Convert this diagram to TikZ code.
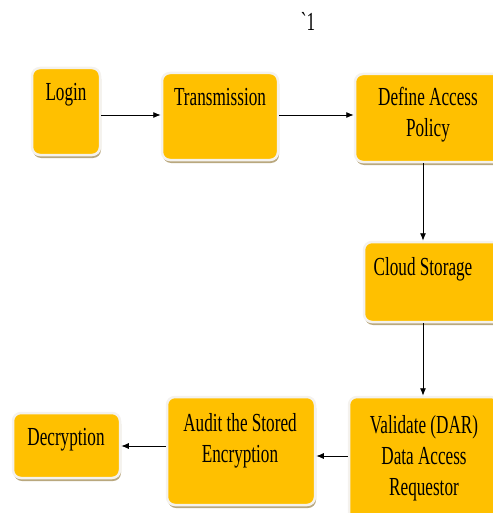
\documentclass[tikz,border=0pt]{standalone}
\usepackage{fontspec}
\setmainfont{Liberation Serif}[FakeStretch=0.66]
\newfontfamily\gravefont{Liberation Serif}[FakeStretch=0.66, Ligatures=TeXOff]
\usetikzlibrary{arrows.meta}
\usetikzlibrary{shadows}
\definecolor{boxgold}{HTML}{FFC000}
\definecolor{boxrim}{HTML}{F4F2EE}
\definecolor{boxshade}{HTML}{A8925E}
\tikzset{stepbox/.style = {rectangle, rounded corners=8pt, fill=boxgold, draw=boxrim,
                           line width=2.5pt, inner sep=0pt,
                           drop shadow={shadow xshift=1pt, shadow yshift=-3pt, fill=boxshade, opacity=0.8}}}
\tikzset{steptext/.style = {anchor=base, align=center, inner sep=0pt,
                            font=\fontsize{26}{31}\selectfont}}
\tikzset{flow/.style = {draw=black, line width=0.9pt, -{Latex[length=7.5pt,width=6pt]}}}

\begin{document}
\begin{tikzpicture}[x=1pt,y=-1pt]
			\useasboundingbox (0,0) rectangle (492,513);
			\coordinate (row1) at (0,115);
			\coordinate (row3) at (0,456);
			\coordinate (row4) at (0,446);
			\coordinate (spine) at (423,0);
			\node (mark) [steptext] at (308,31) {\gravefont `1};
			\node (login) [stepbox, minimum width=68pt, minimum height=87pt] at (66,111.5) {};
			\node (trans) [stepbox, minimum width=116pt, minimum height=87pt] at (220,116.5) {};
			\node (policy) [stepbox, minimum width=150pt, minimum height=88pt] at (430,118) {};
			\node (cloud) [stepbox, minimum width=140pt, minimum height=80pt] at (434,282) {};
			\node (validate) [stepbox, minimum width=150pt, minimum height=124pt] at (424,459) {};
			\node (audit) [stepbox, minimum width=148pt, minimum height=108pt] at (241,451) {};
			\node (decrypt) [stepbox, minimum width=107pt, minimum height=65pt] at (66.5,445.5) {};
			\node (login-t) [steptext] at (66,101) {Login};
			\node (trans-t) [steptext] at (220,106) {Transmission};
			\node (policy-t) [steptext] at (428,137) {Define Access\\Policy};
			\node (cloud-t) [steptext] at (423,275) {Cloud Storage};
			\node (validate-t) [steptext] at (424,495) {Validate (DAR)\\Data Access\\Requestor};
			\node (audit-t) [steptext] at (240,462) {Audit the Stored\\Encryption};
			\node (decrypt-t) [steptext] at (66,445) {Decryption};
			\draw [flow] (login.east |- row1) to (trans.west |- row1);
			\draw [flow] (trans.east |- row1) to (policy.west |- row1);
			\draw [flow] (policy.south -| spine) to (cloud.north -| spine);
			\draw [flow] (cloud.south -| spine) to (validate.north -| spine);
			\draw [flow] (validate.west |- row3) to (audit.east |- row3);
			\draw [flow] (audit.west |- row4) to (decrypt.east |- row4);
		\end{tikzpicture}
\end{document}
